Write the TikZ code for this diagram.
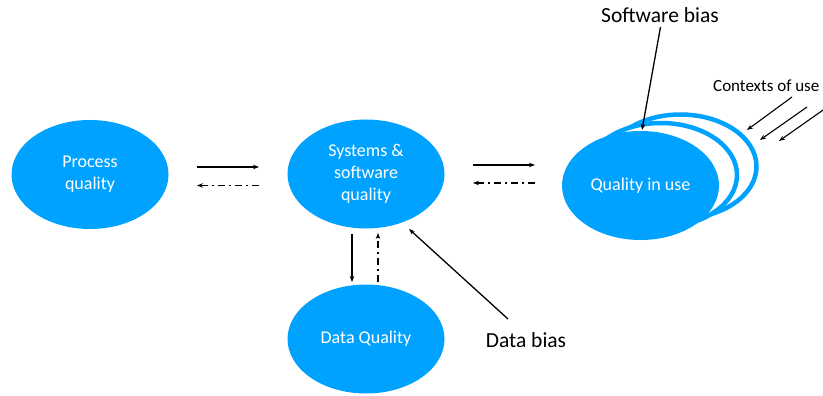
\documentclass[tikz,border=0pt]{standalone}
\usepackage{fontspec}
\setmainfont{Carlito}
\usetikzlibrary{arrows.meta,shapes.geometric}
\definecolor{qblue}{RGB}{0,162,255}
\begin{document}
\begin{tikzpicture}[x=1pt,y=-1pt,
  blob/.style={ellipse,fill=qblue,draw=none,minimum width=157pt,minimum height=109pt,inner sep=0pt,text=white,font=\fontsize{18}{22}\selectfont,align=center},
  ring/.style={ellipse,fill=white,draw=qblue,line width=4.5pt,minimum width=152pt,minimum height=104pt,inner sep=0pt},
  sarr/.style={line width=1.1pt,-{Stealth[length=6pt,width=4.5pt]}},
  darr/.style={line width=1.1pt,dash pattern=on 7pt off 4pt on 2pt off 4pt,-{Stealth[length=6pt,width=4.5pt]}},
  lbl/.style={text=black,inner sep=0pt}]
\useasboundingbox (0,0) rectangle (823,396);
\node[blob] (pq) at (90,174.5) {Process\\quality};
\node[blob] (ss) at (366,174) {Systems \&\\software\\quality};
\node[blob] (dq) at (366,339) {Data Quality};
\node[ring] (r2) at (680.5,166.5) {};
\node[ring] (r1) at (661,175) {};
\node[blob] (qu) at (640.5,185.5) {Quality in use};
% horizontal arrows
\coordinate (a1) at (197,167); \coordinate (a2) at (259,167);
\coordinate (b1) at (259,185.5); \coordinate (b2) at (197,185.5);
\draw[sarr] (a1) -- (a2);
\draw[darr] (b1) -- (b2);
\coordinate (c1) at (473,165); \coordinate (c2) at (535,165);
\coordinate (d1) at (535,183); \coordinate (d2) at (473,183);
\draw[sarr] (c1) -- (c2);
\draw[darr] (d1) -- (d2);
% vertical arrows
\coordinate (e1) at (352,234); \coordinate (e2) at (352,282);
\coordinate (f1) at (378,282); \coordinate (f2) at (378,233);
\draw[sarr] (e1) -- (e2);
\draw[darr] (f1) -- (f2);
% labels
\node[lbl,font=\fontsize{21.5}{24}\selectfont] (db) at (526,340) {Data bias};
\coordinate (dbt) at (508,319); \coordinate (dbh) at (409,229);
\draw[sarr,line width=1.3pt] (dbt) -- (dbh);
\node[lbl,font=\fontsize{21.5}{24}\selectfont] (sb) at (660,15) {Software bias};
\coordinate (sbt) at (660.5,27); \coordinate (sbh) at (642,130);
\draw[sarr,line width=1.3pt] (sbt) -- (sbh);
\node[lbl,font=\fontsize{17}{20}\selectfont,anchor=west] (cu) at (713,86) {Contexts of use};
\coordinate (u1) at (792,97); \coordinate (u2) at (747,130);
\coordinate (v1) at (807,107); \coordinate (v2) at (760,140);
\coordinate (w1) at (826,108); \coordinate (w2) at (779,141);
\draw[sarr] (u1) -- (u2);
\draw[sarr] (v1) -- (v2);
\draw[sarr] (w1) -- (w2);
\end{tikzpicture}
\end{document}
